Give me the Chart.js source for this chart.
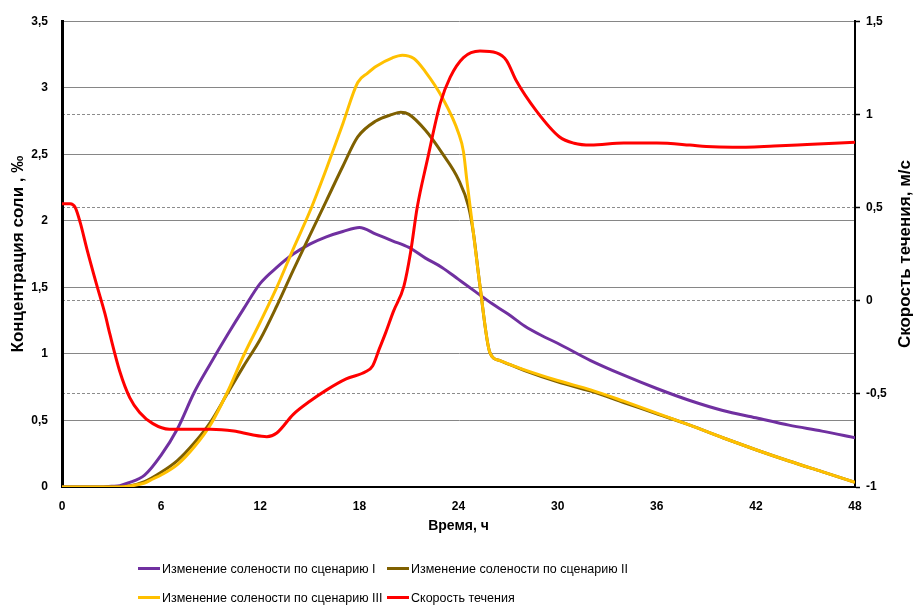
<!DOCTYPE html>
<html>
<head>
<meta charset="utf-8">
<script src="https://cdn.jsdelivr.net/npm/chart.js@4.4.1/dist/chart.umd.min.js"></script>
<style>
html,body{margin:0;padding:0;background:#fff;}
#wrap{position:relative;width:915px;height:605px;overflow:hidden;}
#c{position:absolute;left:0;top:0;}
#legend{position:absolute;left:138px;top:554px;display:grid;grid-template-columns:249px auto;font:12.5px 'Liberation Sans',Arial,sans-serif;color:#000;}
.item{display:flex;align-items:center;height:29px;white-space:nowrap;}
.sw{width:22px;height:3px;margin-right:2px;flex:none;}
</style>
</head>
<body>
<div id="wrap">
<canvas id="c" width="915" height="605"></canvas>
<div id="legend"></div>
</div>
<script>
// ---- Data ----
const seriesLabels = [
  'Изменение солености по сценарию I',
  'Изменение солености по сценарию II',
  'Изменение солености по сценарию III',
  'Скорость течения'
];
const seriesColors = ['#7030A0', '#7F6000', '#FFC000', '#FF0000'];

// Scenario I (left axis, ‰)
const hoursI = [0,2.5,3,3.5,4,5,6,7,8,9,10,11,12,13,14,15,16,17,18,19,20,21,22,23,24,25,26,27,28,29,30,32,34,36,38,40,42,44,46,48];
const salinityI = [0,0,0.005,0.01,0.03,0.09,0.24,0.44,0.71,0.93,1.14,1.34,1.53,1.65,1.75,1.825,1.88,1.92,1.95,1.90,1.85,1.80,1.72,1.65,1.56,1.47,1.38,1.30,1.21,1.14,1.08,0.95,0.84,0.74,0.65,0.575,0.52,0.465,0.42,0.37];

// Scenario II (left axis, ‰)
const hoursII = [0,3.5,4,5,6,7,8,9,10,11,12,13,14,15,16,17,17.9,19,20,20.5,21,22,23,24,24.6,24.9,25.3,25.9,26.5,28,30,32,34,36,38,40,42,44,46,48];
const salinityII = [0,0,0.005,0.04,0.11,0.20,0.33,0.49,0.70,0.91,1.11,1.36,1.63,1.89,2.15,2.41,2.63,2.75,2.80,2.815,2.80,2.68,2.51,2.31,2.11,1.91,1.51,1.01,0.95,0.875,0.79,0.72,0.635,0.55,0.465,0.37,0.28,0.195,0.115,0.035];

// Scenario III (left axis, ‰)
const hoursIII = [0,3.5,4,5,5.5,6,7,8,9,10,11,12,13,14,15,16,17,17.9,18.5,19,20,20.6,21.3,22,23,24,24.3,24.5,24.9,25.3,25.9,26.5,28,30,32,34,36,38,40,42,44,46,48];
const salinityIII = [0,0,0.005,0.03,0.06,0.09,0.17,0.30,0.47,0.71,0.99,1.24,1.50,1.79,2.07,2.39,2.73,3.04,3.11,3.16,3.225,3.245,3.22,3.12,2.93,2.66,2.52,2.31,1.91,1.51,1.01,0.95,0.88,0.80,0.73,0.645,0.555,0.465,0.37,0.28,0.195,0.115,0.035];

// Current speed (right axis, m/s)
const hoursV = [0,0.5,0.8,1.1,1.5,2.1,2.6,2.9,3.5,4.1,4.7,5.5,6.5,8,9,10.4,11.5,12.4,13,14,15,16,17.2,18.4,18.8,19.2,19.6,20.05,20.7,21.1,21.5,22.1,22.9,23.5,24.3,25.3,26.3,26.9,27.5,28.7,30.1,31,32,34,36,38,39,40.6,43.1,45.1,48];
const speed = [0.52,0.52,0.50,0.42,0.28,0.085,-0.07,-0.18,-0.38,-0.52,-0.60,-0.66,-0.69,-0.69,-0.69,-0.70,-0.72,-0.73,-0.71,-0.61,-0.54,-0.48,-0.42,-0.38,-0.35,-0.26,-0.17,-0.06,0.08,0.26,0.50,0.75,1.06,1.20,1.305,1.34,1.33,1.29,1.18,1.02,0.88,0.845,0.835,0.846,0.846,0.835,0.827,0.823,0.83,0.838,0.85];

// Axis tick settings
const xTicks = {min: 0, max: 48, step: 6};
const leftTicks = {min: 0, max: 3.5, step: 0.5};
const rightTicks = {min: -1, max: 1.5, step: 0.5};

const titles = {
  x: 'Время, ч',
  left: 'Концентрация соли , ‰',
  right: 'Скорость течения, м/с'
};

// ---- Build chart ----
const pts = (xs, ys) => xs.map((x, i) => ({x: x, y: ys[i]}));
const comma = v => String(Math.round(v * 10) / 10).replace('.', ',');

const mkSet = (idx, xs, ys, axis, order) => ({
  label: seriesLabels[idx],
  data: pts(xs, ys),
  borderColor: seriesColors[idx],
  backgroundColor: seriesColors[idx],
  borderWidth: 3,
  pointRadius: 0,
  cubicInterpolationMode: 'monotone',
  yAxisID: axis,
  order: order,
  fill: false
});

const rightTitlePlugin = {
  id: 'rightTitle',
  afterDraw(chart) {
    const ctx = chart.ctx;
    const a = chart.chartArea;
    ctx.save();
    ctx.translate(905, (a.top + a.bottom) / 2);
    ctx.rotate(-Math.PI / 2);
    ctx.font = 'bold 17px "Liberation Sans", Arial, sans-serif';
    ctx.fillStyle = '#000';
    ctx.textAlign = 'center';
    ctx.textBaseline = 'middle';
    ctx.fillText(titles.right, 0, 0);
    ctx.restore();
  }
};

Chart.defaults.font.family = '"Liberation Sans", Arial, sans-serif';
Chart.defaults.color = '#000';

new Chart(document.getElementById('c'), {
  type: 'line',
  data: {
    datasets: [
      mkSet(0, hoursI, salinityI, 'y', 3),
      mkSet(1, hoursII, salinityII, 'y', 2),
      mkSet(2, hoursIII, salinityIII, 'y', 1),
      mkSet(3, hoursV, speed, 'y1', 0)
    ]
  },
  options: {
    responsive: false,
    animation: false,
    layout: {padding: {top: 19, bottom: 70, left: 0, right: 0}},
    plugins: {legend: {display: false}, tooltip: {enabled: false}},
    scales: {
      x: {
        type: 'linear',
        min: xTicks.min, max: xTicks.max,
        ticks: {stepSize: xTicks.step, font: {size: 12, weight: 'bold'}, padding: 12, maxRotation: 0},
        grid: {display: false, drawTicks: false},
        border: {display: true, color: '#000', width: 2},
        title: {display: true, text: titles.x, font: {size: 14, weight: 'bold'}, padding: {top: 3, bottom: 0}},
        afterFit: s => { s.height = 48; }
      },
      y: {
        position: 'left',
        min: leftTicks.min, max: leftTicks.max,
        ticks: {stepSize: leftTicks.step, font: {size: 12, weight: 'bold'}, padding: 14, callback: v => comma(v)},
        grid: {drawTicks: false, lineWidth: 1, color: c => c.tick && c.tick.value === 0 ? 'rgba(0,0,0,0)' : '#868686'},
        border: {display: true, color: '#000', width: 3},
        title: {display: true, text: titles.left, font: {size: 17, weight: 'bold'}, padding: {top: 8, bottom: 0}},
        afterFit: s => { s.width = 62; }
      },
      y1: {
        position: 'right',
        min: rightTicks.min, max: rightTicks.max,
        ticks: {stepSize: rightTicks.step, font: {size: 12, weight: 'bold'}, padding: 6, callback: v => comma(v)},
        grid: {
          drawOnChartArea: true, drawTicks: true, tickLength: 5, tickWidth: 1.5, tickColor: '#000', lineWidth: 1,
          color: c => (c.tick && (c.tick.value === rightTicks.min || c.tick.value === rightTicks.max)) ? 'rgba(0,0,0,0)' : '#8c8c8c'
        },
        border: {display: true, color: '#000', width: 2, dash: [3, 2]},
        afterFit: s => { s.width = 60; }
      }
    }
  },
  plugins: [rightTitlePlugin]
});

// HTML legend (Excel-style two-column grid)
const legendOrder = [0, 1, 2, 3];
const lg = document.getElementById('legend');
legendOrder.forEach(i => {
  const it = document.createElement('div');
  it.className = 'item';
  const sw = document.createElement('span');
  sw.className = 'sw';
  sw.style.background = seriesColors[i];
  const tx = document.createElement('span');
  tx.textContent = seriesLabels[i];
  it.appendChild(sw);
  it.appendChild(tx);
  lg.appendChild(it);
});
</script>
</body>
</html>
